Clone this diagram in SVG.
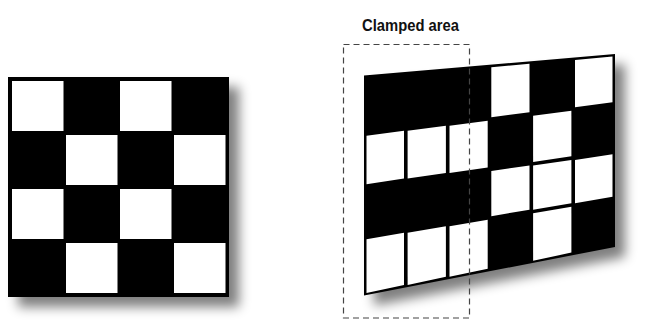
<svg xmlns="http://www.w3.org/2000/svg" width="649" height="323" viewBox="0 0 649 323">
  <defs>
    <filter id="blur" x="-20%" y="-20%" width="140%" height="140%">
      <feGaussianBlur stdDeviation="6"/>
    </filter>
    <style>
      .shadow { fill: #000; opacity: 0.5; filter: url(#blur); }
      .board { fill: #000; }
      .cell { fill: #fff; }
      .dash { fill: none; stroke: #444; stroke-width: 1.2; stroke-dasharray: 6 4; }
      .label { font-family: "Liberation Sans", Arial, sans-serif; font-weight: bold; font-size: 17px; fill: #111; }
    </style>
  </defs>
  <rect width="649" height="323" fill="#fff"/>

  <g id="left-board">
    <rect class="shadow" x="18" y="87" width="221" height="220"/>
    <rect class="board" x="8" y="77" width="221" height="220"/>
    <rect class="cell" x="12" y="81" width="51.5" height="50"/>
    <rect class="cell" x="120" y="81" width="51.5" height="50"/>
    <rect class="cell" x="66" y="135" width="51.5" height="50"/>
    <rect class="cell" x="174" y="135" width="51.5" height="50"/>
    <rect class="cell" x="12" y="189" width="51.5" height="50"/>
    <rect class="cell" x="120" y="189" width="51.5" height="50"/>
    <rect class="cell" x="66" y="243" width="51.5" height="50"/>
    <rect class="cell" x="174" y="243" width="51.5" height="50"/>
  </g>

  <g id="right-board">
    <polygon class="shadow" points="374,85.5 625,64 625,257 374,305.5"/>
    <polygon class="board" points="364,75.5 615,54 615,247 364,295.5"/>
    <!-- row 0 -->
    <polygon class="cell" points="491.3,67.25 529.5,63.7 529.5,112.2 491.3,117.2"/>
    <polygon class="cell" points="575,60.1 612.5,56.5 612.5,102.2 575,107.2"/>
    <!-- row 1 -->
    <polygon class="cell" points="366.5,135.8 404,130.8 404,178.6 366.5,184.2"/>
    <polygon class="cell" points="407.6,130.8 445.9,125.8 445.9,173 407.6,178.6"/>
    <polygon class="cell" points="449.5,125.8 487.7,120.8 487.7,167.45 449.5,173"/>
    <polygon class="cell" points="533.1,115.8 571.4,110.8 571.4,156.3 533.1,161.9"/>
    <!-- row 2 -->
    <polygon class="cell" points="491.3,171.05 529.5,165.5 529.5,209.7 491.3,216.2"/>
    <polygon class="cell" points="533.1,165.5 571.4,159.9 571.4,203.2 533.1,209.7"/>
    <polygon class="cell" points="575,159.9 612.5,154.3 612.5,196.7 575,203.2"/>
    <!-- row 3 -->
    <polygon class="cell" points="366.5,239.3 404,232.8 404,284.9 366.5,293"/>
    <polygon class="cell" points="407.6,232.8 445.9,226.3 445.9,276.8 407.6,284.9"/>
    <polygon class="cell" points="449.5,226.3 487.7,219.8 487.7,268.75 449.5,276.8"/>
    <polygon class="cell" points="533.1,213.3 571.4,206.8 571.4,252.6 533.1,260.7"/>
  </g>

  <g id="clamped-area">
    <rect class="dash" x="343.5" y="44.5" width="126" height="273.5"/>
    <text class="label" x="362" y="31" textLength="97" lengthAdjust="spacingAndGlyphs">Clamped area</text>
  </g>

  <g id="connectors"/>
</svg>
